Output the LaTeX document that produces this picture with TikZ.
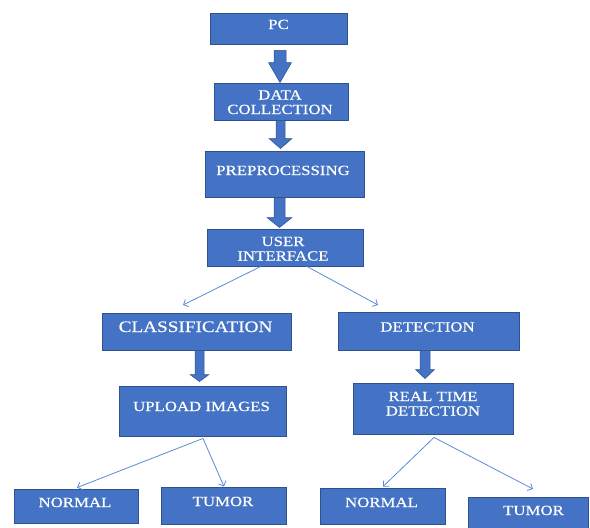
\documentclass[tikz,border=0pt]{standalone}
\usepackage{fontspec}
\setmainfont{Liberation Serif}[FakeStretch=1.2,FakeBold=0.4]
\usetikzlibrary{calc,arrows.meta}
\definecolor{boxfill}{HTML}{4472C4}
\definecolor{boxline}{HTML}{2F528F}
\definecolor{thinline}{HTML}{5B8BD6}
\newcommand\blockarr[6]{% top point, tip point, shaft half, head half, head length
  \filldraw[barrow] let \p1=#1, \p2=#2 in
    (\x1-#3pt,\y1) -- (\x1+#3pt,\y1) -- (\x1+#3pt,\y2+#5pt) -- (\x1+#4pt,\y2+#5pt)
    -- (\x1,\y2) -- (\x1-#4pt,\y2+#5pt) -- (\x1-#3pt,\y2+#5pt) -- cycle;}
\begin{document}
\begin{tikzpicture}[x=1pt,y=-1pt,
  box/.style={draw=boxline,line width=0.9pt,fill=boxfill,inner sep=0pt,rectangle},
  lbl/.style={text=white,inner sep=0pt,font=\fontsize{14}{14.5}\selectfont,align=center},
  barrow/.style={fill=boxfill,draw=boxline,line width=0.5pt,line join=miter},
  thinarrow/.style={draw=thinline,line width=0.8pt,-{Straight Barb[length=4pt,width=8pt]}}]
\useasboundingbox (0,0) rectangle (590,528);
% boxes
\node[box,minimum width=137pt,minimum height=31pt] (pc) at (278.5,28.5) {};
\node[box,minimum width=134pt,minimum height=37pt] (dc) at (281,101.5) {};
\node[box,minimum width=159pt,minimum height=46pt] (pre) at (284.5,174) {};
\node[box,minimum width=156pt,minimum height=37pt] (ui) at (285,247.5) {};
\node[box,minimum width=189pt,minimum height=37pt] (cls) at (196.5,331.5) {};
\node[box,minimum width=181pt,minimum height=38pt] (det) at (428.5,331) {};
\node[box,minimum width=167pt,minimum height=50pt] (up) at (202.5,411) {};
\node[box,minimum width=160pt,minimum height=51pt] (rtd) at (433,408.5) {};
\node[box,minimum width=124pt,minimum height=34pt] (nl) at (76,506) {};
\node[box,minimum width=125pt,minimum height=37pt] (tl) at (223.5,505.5) {};
\node[box,minimum width=125pt,minimum height=36pt] (nr) at (382.5,506) {};
\node[box,minimum width=120pt,minimum height=31pt] (tr) at (528,512.5) {};
% labels (base = baseline of the last line)
\node[lbl,anchor=base] (pct) at (278.5,29) {PC};
\node[lbl,anchor=base] (dct) at (280,114) {DATA\\COLLECTION};
\node[lbl,anchor=base] (pret) at (283,175) {PREPROCESSING};
\node[lbl,anchor=base] (uit) at (283,260.5) {USER\\INTERFACE};
\node[lbl,anchor=base,font=\fontsize{16}{17}\selectfont] (clst) at (195.5,332) {CLASSIFICATION};
\node[lbl,anchor=base] (dett) at (427.5,331.5) {DETECTION};
\node[lbl,anchor=base] (upt) at (201.5,411) {UPLOAD IMAGES};
\node[lbl,anchor=base] (rtdt) at (433,415.5) {REAL TIME\\DETECTION};
\node[lbl,anchor=base] (nlt) at (75,507) {NORMAL};
\node[lbl,anchor=base] (tlt) at (223,506) {TUMOR};
\node[lbl,anchor=base] (nrt) at (381.5,507) {NORMAL};
\node[lbl,anchor=base] (trt) at (533.5,515) {TUMOR};
% block arrows
\blockarr{($(pc.south)+(1.5,6)$)}{(dc.north -| 280,0)}{6}{11.5}{20}{}
\blockarr{($(dc.south)+(-0.5,0)$)}{($(pre.north)+(-4,-2)$)}{4.5}{11.5}{10}{}
\blockarr{($(pre.south)+(-5,1)$)}{($(ui.north)+(-5.5,-1)$)}{5.5}{12.5}{10}{}
\blockarr{($(cls.south)+(3,0)$)}{($(up.north)+(-3,-4)$)}{4.5}{9.5}{7}{}
\blockarr{($(det.south)+(-3.5,0)$)}{($(rtd.north)+(-8,-4)$)}{5}{9.5}{9}{}
% thin arrows
\coordinate (e1) at (183,305);
\coordinate (e2) at (378,305);
\coordinate (e3) at (533,489);
\draw[thinarrow] ($(ui.south west)!0.346!(ui.south east)$) -- (e1);
\draw[thinarrow] ($(ui.south west)!0.64!(ui.south east)$) -- (e2);
\draw[thinarrow] ($(up.south)+(0.5,2)$) -- ($(nl.north)+(1,-1)$);
\draw[thinarrow] ($(up.south)+(0.5,2)$) -- ($(tl.north)+(0.5,0)$);
\draw[thinarrow] ($(rtd.south)+(1,3)$) -- ($(nr.north)+(0.5,-1)$);
\draw[thinarrow] ($(rtd.south)+(1,3)$) -- (e3);
\end{tikzpicture}
\end{document}
